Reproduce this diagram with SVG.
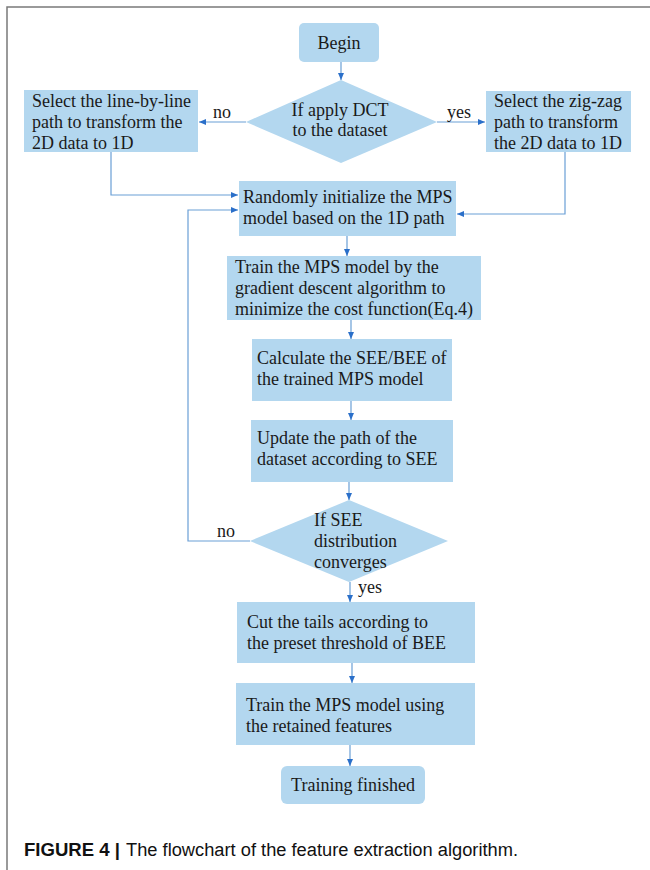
<svg xmlns="http://www.w3.org/2000/svg" width="650" height="870" viewBox="0 0 650 870">
<defs>
<marker id="ah" markerWidth="8" markerHeight="6" refX="7" refY="3" orient="auto" markerUnits="userSpaceOnUse">
<path d="M0,0 L7,3 L0,6 z" fill="#2a6fc9"/>
</marker>
<style>
.box{fill:#b3d7ef;stroke:none}
.t{font-family:"Liberation Serif","Times New Roman",serif;font-size:18px;fill:#1a1a1a}
.c{fill:none;stroke:#6a9fd6;stroke-width:1.2}
.frame{stroke:#7a7a7a;stroke-width:1.5;fill:none}
.cap{font-family:"Liberation Sans",Arial,sans-serif;font-size:18px;fill:#111}
</style>
</defs>
<rect width="650" height="870" fill="#ffffff"/>
<path class="frame" d="M7,870 L7,7 L650,7"/>

<g id="connectors">
<path class="c" d="M341,62 L341,80" marker-end="url(#ah)"/>
<path class="c" d="M246,122 L199,122" marker-end="url(#ah)"/>
<path class="c" d="M437,122 L485,122" marker-end="url(#ah)"/>
<path class="c" d="M111,152 L111,195 L238,195" marker-end="url(#ah)"/>
<path class="c" d="M565,152 L565,214 L457,214" marker-end="url(#ah)"/>
<path class="c" d="M250,541 L188,541 L188,210 L238,210" marker-end="url(#ah)"/>
<path class="c" d="M347,236 L347,256" marker-end="url(#ah)"/>
<path class="c" d="M351,320 L351,339" marker-end="url(#ah)"/>
<path class="c" d="M351,401 L351,420" marker-end="url(#ah)"/>
<path class="c" d="M349,482 L349,500" marker-end="url(#ah)"/>
<path class="c" d="M350,582 L350,602" marker-end="url(#ah)"/>
<path class="c" d="M352,663 L352,683" marker-end="url(#ah)"/>
<path class="c" d="M350,745 L350,766" marker-end="url(#ah)"/>
<text class="t" x="213" y="118">no</text>
<text class="t" x="447" y="118">yes</text>
<text class="t" x="217" y="537">no</text>
<text class="t" x="358" y="593">yes</text>
</g>

<g id="begin">
<rect class="box" x="299" y="23" width="80" height="39" rx="5"/>
<text class="t" x="339" y="49" text-anchor="middle">Begin</text>
</g>

<g id="dct-decision">
<polygon class="box" points="341,80 437,122 341,163 246,122"/>
<text class="t" x="340" y="116" text-anchor="middle">If apply DCT</text>
<text class="t" x="340" y="136" text-anchor="middle">to the dataset</text>
</g>

<g id="line-by-line">
<rect class="box" x="24" y="90" width="174" height="62"/>
<text class="t" x="32" y="107">Select the line-by-line</text>
<text class="t" x="32" y="128">path to transform the</text>
<text class="t" x="32" y="149">2D data to 1D</text>
</g>

<g id="zig-zag">
<rect class="box" x="486" y="91" width="145" height="61"/>
<text class="t" x="494" y="107">Select the zig-zag</text>
<text class="t" x="494" y="128">path to transform</text>
<text class="t" x="494" y="149">the 2D data to 1D</text>
</g>

<g id="init">
<rect class="box" x="239" y="181" width="217" height="55"/>
<text class="t" x="243" y="203">Randomly initialize the MPS</text>
<text class="t" x="243" y="224">model based on the 1D path</text>
</g>

<g id="train-gd">
<rect class="box" x="227" y="256" width="254" height="64"/>
<text class="t" x="235" y="273">Train the MPS model by the</text>
<text class="t" x="235" y="294">gradient descent algorithm to</text>
<text class="t" x="235" y="315">minimize the cost function(Eq.4)</text>
</g>

<g id="calc-see">
<rect class="box" x="252" y="339" width="200" height="62"/>
<text class="t" x="257" y="364">Calculate the SEE/BEE of</text>
<text class="t" x="257" y="385">the trained MPS model</text>
</g>

<g id="update-path">
<rect class="box" x="251" y="420" width="202" height="62"/>
<text class="t" x="257" y="444">Update the path of the</text>
<text class="t" x="257" y="465">dataset according to SEE</text>
</g>

<g id="see-decision">
<polygon class="box" points="349,500 448,541 349,582 250,541"/>
<text class="t" x="314" y="526">If SEE</text>
<text class="t" x="314" y="547">distribution</text>
<text class="t" x="314" y="568">converges</text>
</g>

<g id="cut-tails">
<rect class="box" x="237" y="602" width="238" height="61"/>
<text class="t" x="247" y="628">Cut the tails according to</text>
<text class="t" x="247" y="649">the preset threshold of BEE</text>
</g>

<g id="train-retained">
<rect class="box" x="236" y="683" width="239" height="62"/>
<text class="t" x="246" y="711">Train the MPS model using</text>
<text class="t" x="246" y="732">the retained features</text>
</g>

<g id="finished">
<rect class="box" x="281" y="766" width="144" height="38" rx="6"/>
<text class="t" x="353" y="791" text-anchor="middle">Training finished</text>
</g>

<g id="caption">
<text class="cap" x="24" y="856" font-weight="bold" textLength="96" lengthAdjust="spacingAndGlyphs">FIGURE 4 |</text>
<text class="cap" x="126" y="856" textLength="392" lengthAdjust="spacingAndGlyphs">The flowchart of the feature extraction algorithm.</text>
</g>
</svg>
